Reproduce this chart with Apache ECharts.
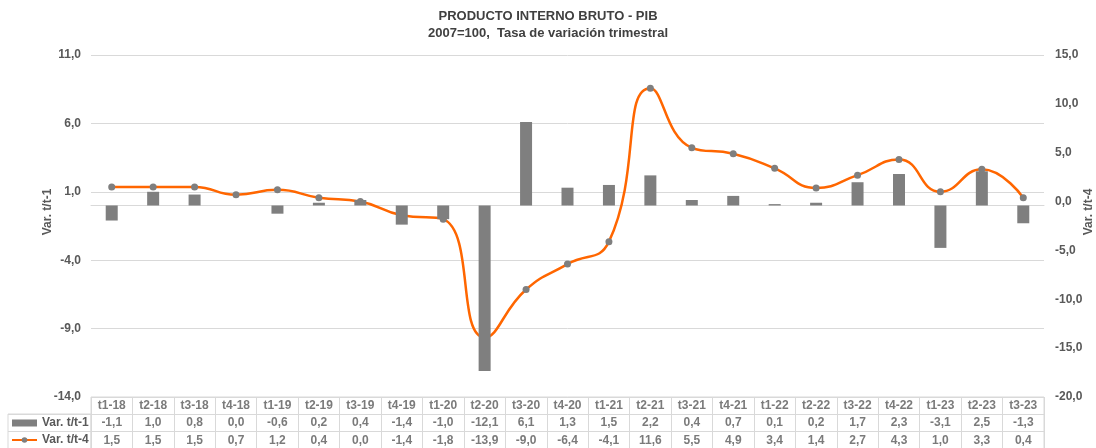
<!DOCTYPE html>
<html>
<head>
<meta charset="utf-8">
<script src="https://cdn.jsdelivr.net/npm/echarts@6/dist/echarts.min.js"></script>
<style>
  html, body { margin: 0; padding: 0; background: #fff; }
  #chart { width: 1096px; height: 448px; }
</style>
</head>
<body>
<div id="chart"></div>
<script>
// datos
const categories = ['t1-18', 't2-18', 't3-18', 't4-18', 't1-19', 't2-19', 't3-19', 't4-19',
    't1-20', 't2-20', 't3-20', 't4-20', 't1-21', 't2-21', 't3-21', 't4-21',
    't1-22', 't2-22', 't3-22', 't4-22', 't1-23', 't2-23', 't3-23'];
const varT1 = [-1.1, 1.0, 0.8, 0.0, -0.6, 0.2, 0.4, -1.4, -1.0, -12.1, 6.1, 1.3,
    1.5, 2.2, 0.4, 0.7, 0.1, 0.2, 1.7, 2.3, -3.1, 2.5, -1.3];
const varT4 = [1.5, 1.5, 1.5, 0.7, 1.2, 0.4, 0.0, -1.4, -1.8, -13.9, -9.0, -6.4,
    -4.1, 11.6, 5.5, 4.9, 3.4, 1.4, 2.7, 4.3, 1.0, 3.3, 0.4];
const leftTicks = [-14, -9, -4, 1, 6, 11];
const rowKeys = ['header', 'Var. t/t-1', 'Var. t/t-4'];

const FONT = 'Liberation Sans, Arial, sans-serif';
const TXT = '#595959';
const GRID = '#D9D9D9';

function fmt(v) {
    return v.toFixed(1).replace('.', ',');
}

// celdas de la tabla de datos (fila 0 = periodos)
const tableCells = [];
categories.forEach(function (c, i) {
    tableCells.push({ value: [i, 0], text: c });
    tableCells.push({ value: [i, 1], text: fmt(varT1[i]) });
    tableCells.push({ value: [i, 2], text: fmt(varT4[i]) });
});

const chart = echarts.init(document.getElementById('chart'), null, { renderer: 'canvas' });

const option = {
    animation: false,
    textStyle: { fontFamily: FONT },
    title: {
        text: 'PRODUCTO INTERNO BRUTO - PIB',
        subtext: '2007=100,  Tasa de variación trimestral',
        left: 'center',
        top: 9,
        padding: 0,
        itemGap: 2,
        textStyle: { fontSize: 13, fontWeight: 'bold', color: '#404040', lineHeight: 15, fontFamily: FONT },
        subtextStyle: { fontSize: 13, fontWeight: 'bold', color: '#404040', lineHeight: 15, fontFamily: FONT }
    },
    legend: {
        orient: 'vertical',
        left: 11,
        top: 416,
        padding: 0,
        itemWidth: 25,
        itemHeight: 7,
        itemGap: 3,
        selectedMode: false,
        textStyle: { fontSize: 12, fontWeight: 'bold', color: TXT, lineHeight: 14, fontFamily: FONT },
        data: [{ name: 'Var. t/t-1', icon: 'rect' }, { name: 'Var. t/t-4' }]
    },
    grid: [
        { left: 91, right: 52, top: 55, height: 342, outerBoundsMode: 'none' },   // grafico
        { left: 91, right: 52, top: 397, height: 52, outerBoundsMode: 'none',
          show: true, borderColor: GRID, borderWidth: 1 },                        // tabla
        { left: 8, width: 83, top: 414, height: 35, outerBoundsMode: 'none',
          show: true, borderColor: GRID, borderWidth: 1 }                         // leyenda
    ],
    xAxis: [
        {
            type: 'category',
            gridIndex: 0,
            data: categories,
            axisLine: { show: true, onZero: true, onZeroAxisIndex: 0, lineStyle: { color: GRID, width: 1 } },
            axisTick: { show: false },
            axisLabel: { show: false },
            splitLine: { show: false }
        },
        {
            type: 'category',
            gridIndex: 1,
            data: categories,
            axisLine: { show: false },
            // lineas verticales de la tabla
            axisTick: { show: true, interval: 0, inside: true, length: 52, lineStyle: { color: GRID, width: 1 } },
            axisLabel: { show: false },
            splitLine: { show: false }
        },
        {
            type: 'value',
            gridIndex: 2,
            min: 0,
            max: 1,
            show: false
        }
    ],
    yAxis: [
        {
            type: 'value',
            gridIndex: 0,
            min: -14,
            max: 11,
            name: 'Var. t/t-1',
            nameLocation: 'middle',
            nameRotate: 90,
            nameGap: 37,
            nameMoveOverlap: false,
            nameTextStyle: { fontSize: 12, fontWeight: 'bold', color: TXT, fontFamily: FONT, padding: [0, 0, 0, 28] },
            axisLine: { show: false },
            axisTick: { show: false, customValues: leftTicks },
            axisLabel: {
                customValues: leftTicks,
                margin: 10,
                fontSize: 12, fontWeight: 'bold', color: TXT,
                formatter: fmt
            },
            splitLine: { show: true, lineStyle: { color: GRID, width: 1 } }
        },
        {
            type: 'value',
            gridIndex: 0,
            position: 'right',
            min: -20,
            max: 15,
            interval: 5,
            name: 'Var. t/t-4',
            nameLocation: 'middle',
            nameRotate: 90,
            nameGap: 39,
            nameMoveOverlap: false,
            nameTextStyle: { fontSize: 12, fontWeight: 'bold', color: TXT, fontFamily: FONT, padding: [0, 0, 0, 28] },
            axisLine: { show: false },
            axisTick: { show: false },
            axisLabel: {
                margin: 11,
                fontSize: 12, fontWeight: 'bold', color: TXT,
                formatter: fmt
            },
            splitLine: { show: false }
        },
        {
            type: 'category',
            gridIndex: 1,
            data: rowKeys,
            inverse: true,
            axisLine: { show: false },
            axisTick: { show: false },
            axisLabel: { show: false },
            splitLine: { show: true, interval: 0, lineStyle: { color: GRID, width: 1 } }
        },
        {
            type: 'category',
            gridIndex: 2,
            data: rowKeys.slice(1),
            inverse: true,
            axisLine: { show: false },
            axisTick: { show: false },
            axisLabel: { show: false },
            splitLine: { show: true, interval: 0, lineStyle: { color: GRID, width: 1 } }
        }
    ],
    series: [
        {
            name: 'Var. t/t-1',
            type: 'bar',
            xAxisIndex: 0,
            yAxisIndex: 0,
            barWidth: 12,
            itemStyle: { color: '#7F7F7F' },
            z: 4, // las barras tapan la linea, como en el original
            data: varT1
        },
        {
            name: 'Var. t/t-4',
            type: 'line',
            xAxisIndex: 0,
            yAxisIndex: 1,
            smooth: true,
            symbol: 'circle',
            symbolSize: 7,
            showAllSymbol: true,
            lineStyle: { color: '#FF6600', width: 2.5 },
            itemStyle: { color: '#7F7F7F' },
            z: 2,
            data: varT4
        },
        {
            name: 'tabla',
            type: 'scatter',
            xAxisIndex: 1,
            yAxisIndex: 2,
            silent: true,
            symbolSize: 1,
            itemStyle: { color: 'rgba(0,0,0,0)' },
            label: {
                show: true,
                position: 'inside',
                fontSize: 12,
                fontWeight: 'bold',
                color: TXT,
                fontFamily: FONT,
                formatter: function (p) { return p.data.text; }
            },
            data: tableCells
        }
    ]
};

chart.setOption(option);
</script>
</body>
</html>
